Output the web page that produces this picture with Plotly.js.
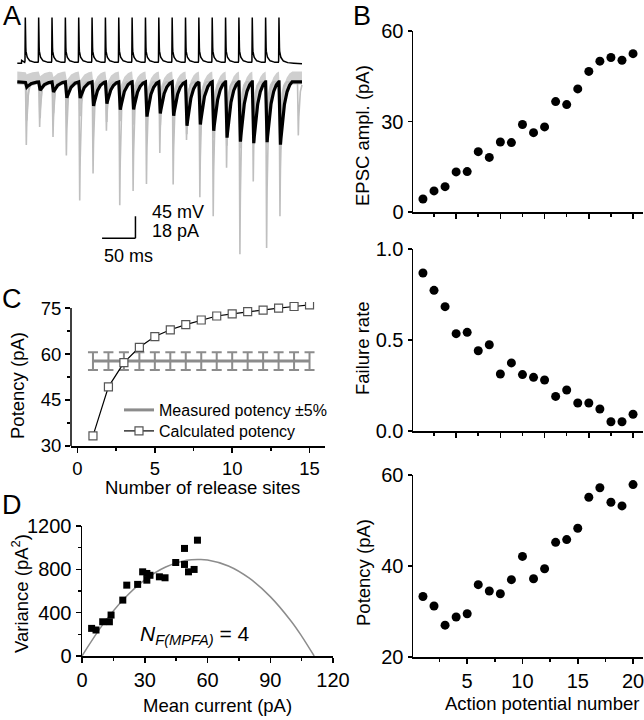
<!DOCTYPE html>
<html><head><meta charset="utf-8">
<script src="https://cdn.plot.ly/plotly-3.0.1.min.js"></script>
<style>html,body{margin:0;padding:0;background:#fff}#chart{width:644px;height:720px}</style>
</head><body><div id="chart"></div>
<script>
// ---------------- DATA ----------------
// Panel B (per action potential)
const apNumber = [1,2,3,4,5,6,7,8,9,10,11,12,13,14,15,16,17,18,19,20];
const epscAmpl = [4.3,7.0,8.4,13.3,13.4,20.0,18.1,23.2,23.0,29.0,26.3,28.2,36.6,35.6,40.8,46.6,50.0,51.2,50.3,52.5];
const failureRate = [0.868,0.773,0.683,0.535,0.542,0.441,0.474,0.313,0.374,0.310,0.295,0.280,0.190,0.225,0.154,0.154,0.121,0.051,0.051,0.092];
const potency = [33.3,31.2,27.0,28.8,29.5,35.9,34.5,33.9,37.0,42.1,37.2,39.4,45.2,45.8,48.3,55.1,57.2,54.0,53.2,57.9];

// Panel C
const releaseSites = [1,2,3,4,5,6,7,8,9,10,11,12,13,14,15];
const calcPotency = [33.3,49.3,57.2,62.2,65.7,67.9,69.6,71.1,72.4,73.1,73.8,74.3,75.0,75.5,76.0];
const measPotency = [57.7,57.7,57.7,57.7,57.7,57.7,57.7,57.7,57.7,57.7,57.7,57.7,57.7,57.7,57.7];
const measErrPct = 5;

// Panel D
const mpfaMean = [4.6,6.7,9.9,13.1,13.9,19.5,21.4,26.6,29.0,31.0,31.0,32.5,37.0,39.7,44.8,49.0,49.0,50.9,53.6,55.2];
const mpfaVar  = [255,240,316,316,378,516,654,661,777,762,700,745,731,722,863,993,845,777,799,1069];
const fitMean = [0,10,20,30,40,50,56,60,70,80,90,100,105,111];
const fitVar  = [0,292,526,703,822,883,890,886,831,718,548,321,184,0];

// Panel A (traces): spike times (ms), EPSC amplitudes (pA)
const apTimes = [11.5,31.5,51.5,71.5,91.5,111.5,131.5,151.5,171.5,191.5,211.5,231.5,251.5,271.5,291.5,311.5,331.5,351.5,371.5,391.5];
const sweepMaxAmp = [54.3,38.8,47.5,63.4,102.2,79.0,42.0,106.3,94.0,88.0,61.2,88.5,50.0,99.4,115.8,74.0,148.6,85.8,143.2,115.8];
const asyncTimes = [419.0];
const asyncAmp = [46.1];
const traceEnd = 426.5;
// waveform templates (ms after spike peak, relative value)
const apShapeDt = [-0.6,0,0.5,1.0,1.6,3,5,7,10,15,19.5];
const apShapeMv = [0,3,92,40,20,12,6,3.7,1.8,0.5,0];
const restDt = [0,6.4,6.5,11,392,426.5];
const restMv = [-65,-65,-59,-63.5,-63.5,-66];
const meanShapeDt = [0.5,1.2,2.0,2.6,3.5,5,7,9,11,13,15,17,19.5];
const meanShapeV  = [0,0.3,0.85,1.0,0.88,0.68,0.48,0.33,0.22,0.14,0.08,0.04,0];
const fastShapeDt = [0.8,1.4,1.9,2.5,3.3,4.5,6,8,11];
const fastShapeV  = [0,0.5,1.0,0.7,0.42,0.22,0.1,0.04,0];

// --------------- helpers ---------------
const FONT = 'Arial, "Liberation Sans", sans-serif';
const W = 644, H = 720;
const dx = (a,b)=>[a/W, b/W];
const dy = (top,bottom)=>[1-bottom/H, 1-top/H];

const tGrid = [];
for (let i=0; i*0.25<=traceEnd+1e-9; i++) tGrid.push(i*0.25);
function interp(x, xs, ys){
  if (x<=xs[0]) return ys[0];
  if (x>=xs[xs.length-1]) return ys[ys.length-1];
  for (let i=1;i<xs.length;i++) if (x<=xs[i]) {const f=(x-xs[i-1])/(xs[i]-xs[i-1]); return ys[i-1]+f*(ys[i]-ys[i-1]);}
  return 0;
}
function tpl(dt, tD, tV){ if (dt<=tD[0]||dt>=tD[tD.length-1]) return 0; return interp(dt,tD,tV); }
function sumEvents(times, amps, tD, tV, shift){
  return tGrid.map(t=>{let s=0; for(let k=0;k<times.length;k++) s+=amps[k]*tpl(t-times[k]-(shift||0),tD,tV); return s;});
}
const vTrace = tGrid.map(t=>interp(t,restDt,restMv) + apTimes.reduce((s,tk)=>s+tpl(t-tk,apShapeDt,apShapeMv),0));
const meanTrace = sumEvents(apTimes, epscAmpl, meanShapeDt, meanShapeV).map(v=>-v);
const sweepFast = sumEvents(apTimes.concat(asyncTimes), sweepMaxAmp.concat(asyncAmp), fastShapeDt, fastShapeV).map(v=>-v);
const sweepMid = sumEvents(apTimes, potency, fastShapeDt, fastShapeV, 0.5).map(v=>-v);
const bandUpper = meanTrace.map(m=>8.5+0.55*m);
const bandLower = meanTrace.map(m=>-2+m);

const GRAY = '#c6c6c6';
const traces = [
  {x:tGrid,y:bandUpper,xaxis:'x',yaxis:'y2',mode:'lines',line:{width:0,color:GRAY},showlegend:false,hoverinfo:'skip'},
  {x:tGrid,y:bandLower,xaxis:'x',yaxis:'y2',mode:'lines',line:{width:0,color:GRAY},fill:'tonexty',fillcolor:'#cfcfcf',showlegend:false,hoverinfo:'skip'},
  {x:tGrid,y:sweepMid,xaxis:'x',yaxis:'y2',mode:'lines',line:{width:2,color:GRAY},showlegend:false},
  {x:tGrid,y:sweepFast,xaxis:'x',yaxis:'y2',mode:'lines',line:{width:1.6,color:'#bfbfbf'},showlegend:false},
  {x:tGrid,y:meanTrace,xaxis:'x',yaxis:'y2',mode:'lines',line:{width:3.2,color:'#000'},showlegend:false},
  {x:tGrid,y:vTrace,xaxis:'x',yaxis:'y',mode:'lines',line:{width:1.5,color:'#000'},showlegend:false},
  // B
  {x:apNumber,y:epscAmpl,xaxis:'x3',yaxis:'y3',mode:'markers',marker:{size:9,color:'#000'},showlegend:false},
  {x:apNumber,y:failureRate,xaxis:'x4',yaxis:'y4',mode:'markers',marker:{size:9,color:'#000'},showlegend:false},
  {x:apNumber,y:potency,xaxis:'x5',yaxis:'y5',mode:'markers',marker:{size:9,color:'#000'},showlegend:false},
  // C
  {x:releaseSites,y:measPotency,xaxis:'x6',yaxis:'y6',mode:'lines',name:'Measured potency \u00b15%',legend:'legend',showlegend:true,
   line:{width:3,color:'#8c8c8c'},error_y:{type:'percent',value:measErrPct,color:'#8c8c8c',thickness:2,width:5}},
  {x:releaseSites,y:calcPotency,xaxis:'x6',yaxis:'y6',mode:'lines+markers',name:'Calculated potency',legend:'legend2',showlegend:true,
   line:{width:1.2,color:'#000'},marker:{symbol:'square',size:8,color:'#fff',line:{width:1.2,color:'#555'}}},
  // D
  {x:fitMean,y:fitVar,xaxis:'x7',yaxis:'y7',mode:'lines',line:{width:1.5,color:'#8c8c8c',shape:'spline'},showlegend:false},
  {x:mpfaMean,y:mpfaVar,xaxis:'x7',yaxis:'y7',mode:'markers',marker:{symbol:'square',size:7,color:'#000'},showlegend:false}
];

const TICKFONT = {family:FONT,size:20,color:'#000'};
const TICKFONT_C = {family:FONT,size:18.5,color:'#000'};
function ax(extra){
  return Object.assign({showline:true,linecolor:'#000',linewidth:1.5,ticks:'outside',ticklen:5,tickwidth:1.5,tickcolor:'#000',
    showgrid:false,zeroline:false,tickfont:TICKFONT,fixedrange:true,ticklabeloverflow:'allow'}, extra);
}
const hidden = {visible:false,showgrid:false,zeroline:false,fixedrange:true};

const ann = [];
function label(text,px,py,opts){ann.push(Object.assign({text:text,x:px/W,y:1-py/H,xref:'paper',yref:'paper',showarrow:false,
  xanchor:'center',yanchor:'middle',font:{family:FONT,size:18.5,color:'#000'}},opts||{}));}
const LET = {family:FONT,size:27,color:'#000'};
label('A',12,16,{font:LET});
label('B',362,16,{font:LET});
label('C',12,299,{font:LET});
label('D',12,505,{font:LET});
label('EPSC ampl. (pA)',362,136,{textangle:-90});
label('Failure rate',362,348,{textangle:-90});
label('Potency (pA)',363,573,{textangle:-90});
label('Action potential number',542,703);
label('Potency (pA)',17,386,{textangle:-90});
label('Number of release sites',202,487);
label('Variance (pA<sup>2</sup>)',20,594,{textangle:-90});
label('Mean current (pA)',218,705);
label('45 mV',150,212,{xanchor:'left',font:{family:FONT,size:18,color:'#000'}});
label('18 pA',150,231,{xanchor:'left',font:{family:FONT,size:18,color:'#000'}});
label('50 ms',102,256,{xanchor:'left',font:{family:FONT,size:18,color:'#000'}});
ann.push({text:'<i>N</i><sub><i>F(MPFA)</i></sub> = 4',x:26.8,y:190,xref:'x7',yref:'y7',showarrow:false,xanchor:'left',yanchor:'middle',
  font:{family:FONT,size:21,color:'#000'}});

const LEGFONT = {family:FONT,size:16,color:'#000'};
const layout = {
  width:W,height:H,margin:{l:0,r:0,t:0,b:0},paper_bgcolor:'#fff',plot_bgcolor:'rgba(0,0,0,0)',
  font:{family:FONT,size:18,color:'#000'},
  xaxis:Object.assign({domain:dx(10,310),range:[-10.94,438.5],anchor:'y2'},hidden),
  yaxis:Object.assign({domain:dy(14,70),range:[-78.7,35.8],anchor:'x'},hidden),
  yaxis2:Object.assign({domain:dy(70,268),range:[-152.5,9.8],anchor:'x'},hidden),
  xaxis3:ax({domain:dx(413,643),range:[0.1,20.9],anchor:'y3',dtick:4,tick0:0,showticklabels:false,
    minor:{dtick:2,ticklen:3,tickwidth:1.5,tickcolor:'#000',ticks:'outside'}}),
  yaxis3:ax({domain:dy(31,212),range:[0,60],anchor:'x3',dtick:30,ticklen:4}),
  xaxis4:ax({domain:dx(413,643),range:[0.1,20.9],anchor:'y4',dtick:4,tick0:0,showticklabels:false,
    minor:{dtick:2,ticklen:3,tickwidth:1.5,tickcolor:'#000',ticks:'outside'}}),
  yaxis4:ax({domain:dy(249,431),range:[0,1],anchor:'x4',dtick:0.5,tickformat:'.1f',ticklen:4}),
  xaxis5:ax({domain:dx(413,643),range:[0.1,20.9],anchor:'y5',dtick:5,tick0:0,
    minor:{dtick:2.5,ticklen:3,tickwidth:1.5,tickcolor:'#000',ticks:'outside'}}),
  yaxis5:ax({domain:dy(475,657),range:[20,60],anchor:'x5',dtick:20,ticklen:4}),
  xaxis6:ax({domain:dx(71,325),range:[-0.42,16],anchor:'y6',dtick:5,tick0:0,tickfont:TICKFONT_C,
    minor:{dtick:2.5,ticklen:3,tickwidth:1.5,tickcolor:'#000',ticks:'outside'}}),
  yaxis6:ax({domain:dy(301.9,446),range:[30,77],anchor:'x6',dtick:15,tick0:0,showline:false,tickfont:TICKFONT_C,
    minor:{dtick:7.5,ticklen:3,tickwidth:1.5,tickcolor:'#000',ticks:'outside'}}),
  xaxis7:ax({domain:dx(82,333),range:[0,120],anchor:'y7',dtick:30,tick0:0,
    minor:{dtick:15,ticklen:3,tickwidth:1.5,tickcolor:'#000',ticks:'outside'}}),
  yaxis7:ax({domain:dy(526,656),range:[0,1200],anchor:'x7',dtick:400,tick0:0,
    minor:{dtick:200,ticklen:3,tickwidth:1.5,tickcolor:'#000',ticks:'outside'}}),
  showlegend:true,
  legend:{x:119/W,y:1-410/H,xanchor:'left',yanchor:'middle',bgcolor:'rgba(0,0,0,0)',borderwidth:0,
    font:LEGFONT,itemwidth:30,traceorder:'normal'},
  legend2:{x:119/W,y:1-431/H,xanchor:'left',yanchor:'middle',bgcolor:'rgba(0,0,0,0)',borderwidth:0,
    font:LEGFONT,itemwidth:30,traceorder:'normal'},
  shapes:[
    {type:'line',xref:'x',yref:'y2',x0:127,x1:177,y0:-128.1,y1:-128.1,line:{color:'#000',width:1.5}},
    {type:'line',xref:'x',yref:'y2',x0:177,x1:177,y0:-128.1,y1:-110.1,line:{color:'#000',width:1.5}},
    {type:'line',xref:'x6 domain',yref:'y6',x0:0,x1:0,y0:30,y1:75,line:{color:'#000',width:1.5}}
  ],
  annotations:ann
};
Plotly.newPlot('chart',traces,layout,{displayModeBar:false,staticPlot:true});
</script></body></html>
